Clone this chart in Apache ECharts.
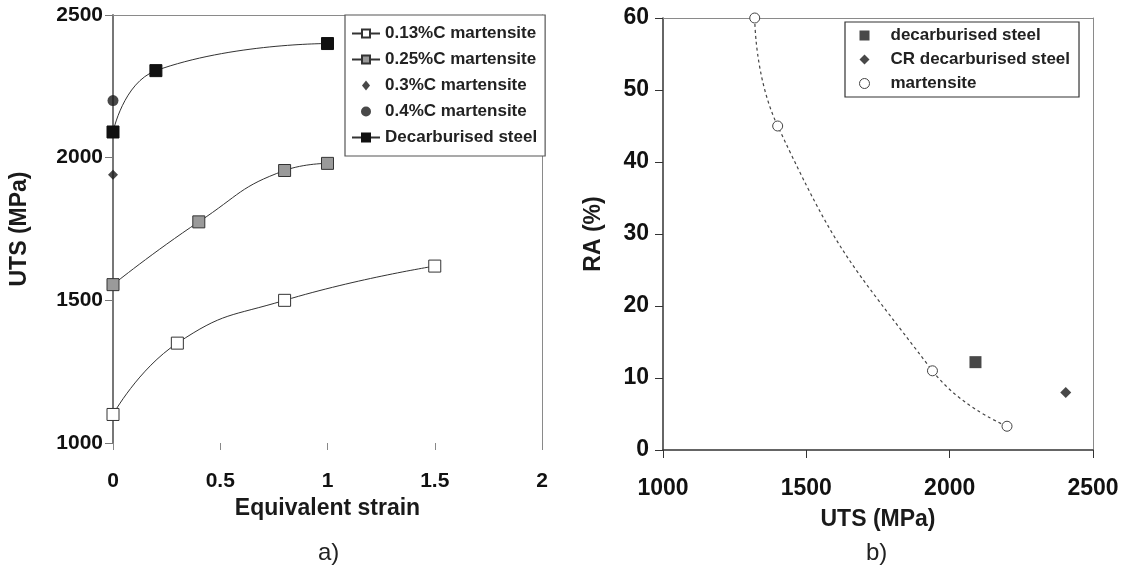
<!DOCTYPE html>
<html>
<head>
<meta charset="utf-8">
<script src="https://cdn.jsdelivr.net/npm/echarts@6/dist/echarts.min.js"></script>
<style>
  html, body { margin: 0; padding: 0; background: #fff; }
  #chart { width: 1127px; height: 574px; }
</style>
</head>
<body>
<div id="chart"></div>
<script>
// ---- Panel a) : UTS vs equivalent strain ----
const strain013 = [0, 0.3, 0.8, 1.5];
const uts013 = [1100, 1350, 1500, 1620];
const strain025 = [0, 0.4, 0.8, 1.0];
const uts025 = [1555, 1775, 1955, 1980];
const strain030 = [0];
const uts030 = [1940];
const strain040 = [0];
const uts040 = [2200];
const strainDecarb = [0, 0.2, 1.0];
const utsDecarb = [2090, 2305, 2400];
const strainTicks = [0, 2, 0.5];      // min, max, interval
const utsTicksA = [1000, 2500, 500];

// ---- Panel b) : RA vs UTS ----
const martUTS = [1320, 1400, 1940, 2200];
const martRA = [60, 45, 11, 3.3];
const decarbUTS = [2090];
const decarbRA = [12.2];
const crUTS = [2405];
const crRA = [8];
const utsTicksB = [1000, 2500, 500];
const raTicks = [0, 60, 10];

const namesA = ['0.13%C martensite', '0.25%C martensite', '0.3%C martensite', '0.4%C martensite', 'Decarburised steel'];
const namesB = ['decarburised steel', 'CR decarburised steel', 'martensite'];

function pairs(xs, ys) { return xs.map((x, i) => [x, ys[i]]); }
const plain = v => String(v);

const FONT = '"Liberation Sans", Arial, sans-serif';
const frameColor = '#8a8a8a';
const DIAMOND_L = 'path://M4,0L8,5L4,10L0,5Z';
const DIAMOND_R = 'path://M5,0L10,5L5,10L0,5Z';
const SQUARE_R = 'path://M0,0L10,0L10,10L0,10Z';

const chart = echarts.init(document.getElementById('chart'), null, { renderer: 'canvas' });

const frameAxis = (grid, isX) => ({
  gridIndex: grid, type: 'value', position: isX ? 'top' : 'right',
  min: isX ? (grid === 0 ? strainTicks[0] : utsTicksB[0]) : (grid === 0 ? utsTicksA[0] : raTicks[0]),
  max: isX ? (grid === 0 ? strainTicks[1] : utsTicksB[1]) : (grid === 0 ? utsTicksA[1] : raTicks[1]),
  axisLine: { show: true, onZero: false, lineStyle: { color: frameColor, width: 1 } },
  axisTick: { show: false }, axisLabel: { show: false }, splitLine: { show: false }
});

const option = {
  animation: false,
  backgroundColor: '#fff',
  textStyle: { fontFamily: FONT },
  grid: [
    { left: 113, top: 15, width: 429, height: 428 },
    { left: 663, top: 18, width: 430, height: 432 }
  ],
  xAxis: [
    {
      gridIndex: 0, type: 'value', position: 'bottom',
      min: strainTicks[0], max: strainTicks[1], interval: strainTicks[2],
      name: 'Equivalent strain', nameLocation: 'middle', nameGap: 54,
      nameTextStyle: { fontFamily: FONT, fontWeight: 'bold', fontSize: 23, color: '#1a1a1a' },
      axisLine: { show: false, onZero: false },
      axisTick: { show: true, length: 7, lineStyle: { color: '#888' } },
      axisLabel: { margin: 28, formatter: plain, fontFamily: FONT, fontWeight: 'bold', fontSize: 21, color: '#111' },
      splitLine: { show: false }
    },
    frameAxis(0, true),
    {
      gridIndex: 1, type: 'value', position: 'bottom',
      min: utsTicksB[0], max: utsTicksB[1], interval: utsTicksB[2],
      name: 'UTS (MPa)', nameLocation: 'middle', nameGap: 58,
      nameTextStyle: { fontFamily: FONT, fontWeight: 'bold', fontSize: 23, color: '#1a1a1a' },
      axisLine: { show: true, onZero: false, lineStyle: { color: '#333', width: 1.5 } },
      axisTick: { show: true, length: 8, lineStyle: { color: '#333' } },
      axisLabel: { margin: 27, formatter: plain, fontFamily: FONT, fontWeight: 'bold', fontSize: 23, color: '#111' },
      splitLine: { show: false }
    },
    frameAxis(1, true)
  ],
  yAxis: [
    {
      gridIndex: 0, type: 'value', position: 'left',
      min: utsTicksA[0], max: utsTicksA[1], interval: utsTicksA[2],
      name: 'UTS (MPa)', nameLocation: 'middle', nameGap: 82,
      nameTextStyle: { fontFamily: FONT, fontWeight: 'bold', fontSize: 23, color: '#1a1a1a' },
      axisLine: { show: true, onZero: false, lineStyle: { color: '#777', width: 2 } },
      axisTick: { show: true, length: 8, lineStyle: { color: '#777' } },
      axisLabel: { margin: 10, formatter: plain, fontFamily: FONT, fontWeight: 'bold', fontSize: 21, color: '#111' },
      splitLine: { show: false }
    },
    frameAxis(0, false),
    {
      gridIndex: 1, type: 'value', position: 'left',
      min: raTicks[0], max: raTicks[1], interval: raTicks[2],
      name: 'RA (%)', nameLocation: 'middle', nameGap: 58,
      nameTextStyle: { fontFamily: FONT, fontWeight: 'bold', fontSize: 23, color: '#1a1a1a' },
      axisLine: { show: true, onZero: false, lineStyle: { color: '#333', width: 1.5 } },
      axisTick: { show: true, length: 8, lineStyle: { color: '#333' } },
      axisLabel: { margin: 14, formatter: plain, fontFamily: FONT, fontWeight: 'bold', fontSize: 23, color: '#111' },
      splitLine: { show: false }
    },
    frameAxis(1, false)
  ],
  legend: [
    {
      data: [
        { name: namesA[0] },
        { name: namesA[1] },
        { name: namesA[2], icon: DIAMOND_L },
        { name: namesA[3], icon: 'circle' },
        { name: namesA[4] }
      ],
      orient: 'vertical', left: 345, top: 15, width: 200,
      padding: [10, 8, 10, 6],
      itemWidth: 28, itemHeight: 10, itemGap: 9,
      borderColor: '#555', borderWidth: 1.2, backgroundColor: '#fff',
      textStyle: { fontFamily: FONT, fontWeight: 'bold', fontSize: 17, lineHeight: 17, color: '#222', padding: [0, 0, 0, 0] }
    },
    {
      data: [
        { name: namesB[0], icon: SQUARE_R },
        { name: namesB[1], icon: DIAMOND_R },
        { name: namesB[2], icon: 'circle', itemStyle: { color: '#fff', borderColor: '#444', borderWidth: 1 } }
      ],
      orient: 'vertical', left: 845, top: 22,
      padding: [5, 9, 5, 14],
      itemWidth: 20, itemHeight: 10, itemGap: 7,
      borderColor: '#333', borderWidth: 1.2, backgroundColor: '#fff',
      textStyle: { fontFamily: FONT, fontWeight: 'bold', fontSize: 17, lineHeight: 17, color: '#222', padding: [0, 0, 0, 11] }
    }
  ],
  series: [
    {
      name: namesA[0], type: 'line', xAxisIndex: 0, yAxisIndex: 0,
      data: pairs(strain013, uts013), smooth: 0.5,
      symbol: 'rect', symbolSize: 12, showAllSymbol: true,
      lineStyle: { color: '#333', width: 1 },
      itemStyle: { color: '#fff', borderColor: '#333', borderWidth: 1 },
      z: 3
    },
    {
      name: namesA[1], type: 'line', xAxisIndex: 0, yAxisIndex: 0,
      data: pairs(strain025, uts025), smooth: 0.5,
      symbol: 'rect', symbolSize: 12, showAllSymbol: true,
      lineStyle: { color: '#333', width: 1 },
      itemStyle: { color: '#9a9a9a', borderColor: '#333', borderWidth: 1 },
      z: 3
    },
    {
      name: namesA[2], type: 'scatter', xAxisIndex: 0, yAxisIndex: 0,
      data: pairs(strain030, uts030),
      symbol: 'diamond', symbolSize: 10,
      itemStyle: { color: '#1a1a1a' }, z: 4
    },
    {
      name: namesA[3], type: 'scatter', xAxisIndex: 0, yAxisIndex: 0,
      data: pairs(strain040, uts040),
      symbol: 'circle', symbolSize: 11,
      itemStyle: { color: '#1a1a1a' }, z: 4
    },
    {
      name: namesA[4], type: 'line', xAxisIndex: 0, yAxisIndex: 0,
      data: pairs(strainDecarb, utsDecarb), smooth: 0.5,
      symbol: 'rect', symbolSize: 12, showAllSymbol: true,
      lineStyle: { color: '#333', width: 1 },
      itemStyle: { color: '#111', borderColor: '#111', borderWidth: 1 },
      z: 3
    },
    {
      name: namesB[0], type: 'scatter', xAxisIndex: 2, yAxisIndex: 2,
      data: pairs(decarbUTS, decarbRA),
      symbol: 'rect', symbolSize: 12,
      itemStyle: { color: '#1a1a1a' }, z: 4
    },
    {
      name: namesB[1], type: 'scatter', xAxisIndex: 2, yAxisIndex: 2,
      data: pairs(crUTS, crRA),
      symbol: 'diamond', symbolSize: 11,
      itemStyle: { color: '#1a1a1a' }, z: 4
    },
    {
      name: namesB[2], type: 'line', xAxisIndex: 2, yAxisIndex: 2,
      data: pairs(martUTS, martRA), smooth: 0.5,
      symbol: 'circle', symbolSize: 10, showAllSymbol: true, clip: false,
      lineStyle: { color: '#444', width: 1.2, type: [3, 3] },
      itemStyle: { color: '#fff', borderColor: '#444', borderWidth: 1 },
      z: 3
    }
  ],
  graphic: [
    { type: 'text', left: 318, top: 541, style: { text: 'a)', fontFamily: FONT, fontSize: 24, fill: '#222' } },
    { type: 'text', left: 866, top: 541, style: { text: 'b)', fontFamily: FONT, fontSize: 24, fill: '#222' } }
  ]
};

chart.setOption(option);
</script>
</body>
</html>
